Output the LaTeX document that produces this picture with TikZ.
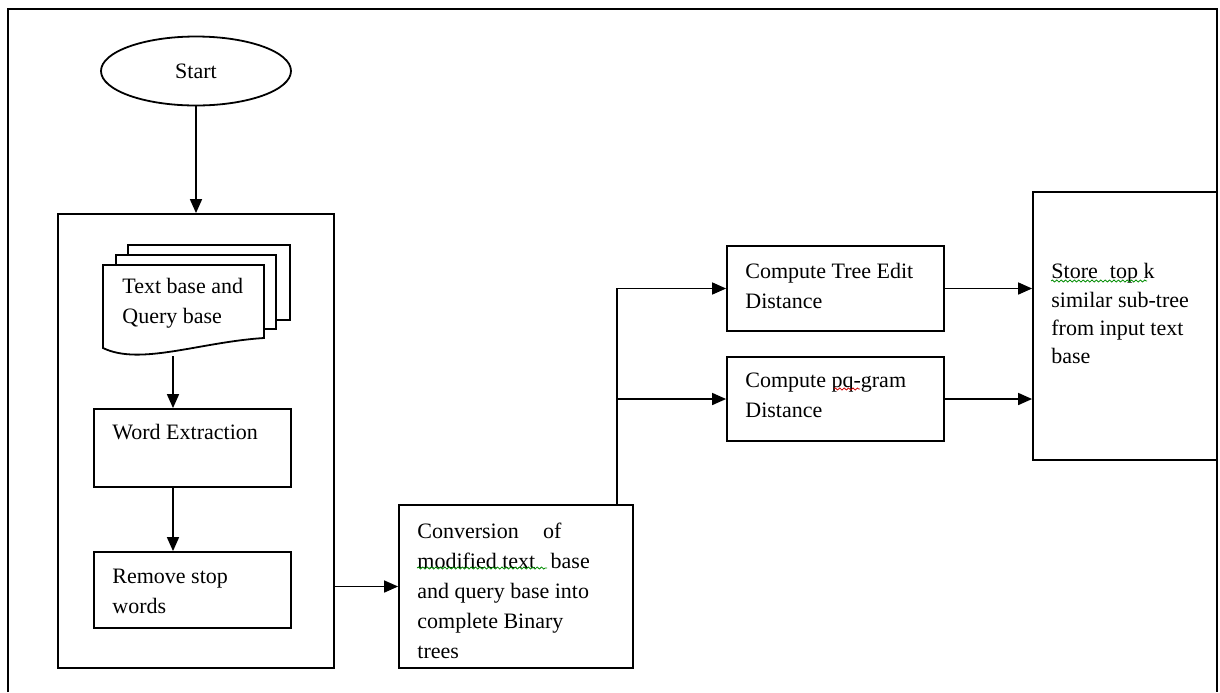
\documentclass[tikz,border=0pt]{standalone}
\usepackage{fontspec}
\setmainfont{Liberation Serif}
\usetikzlibrary{arrows.meta,calc,shapes.geometric,decorations.pathmorphing}
\begin{document}
\begin{tikzpicture}[x=0.5pt,y=-0.5pt,
  box/.style={draw, line width=0.9pt, fill=white, inner sep=0pt},
  txt/.style={anchor=north west, inner sep=0pt, align=left,
              font=\fontsize{11}{15}\selectfont},
  flow/.style={line width=0.8pt, -{Triangle[length=7pt,width=6pt]}},
  page/.style={draw, line width=0.9pt, fill=white},
  spell/.style={decorate, decoration={snake, amplitude=0.5pt, segment length=2.2pt},
                line width=0.4pt}]
\useasboundingbox (0,0) rectangle (1220,692);
\fill[white] (0,0) rectangle (1220,692);

% outer frame
\draw[line width=1pt] (8,692) -- (8,9) -- (1217,9) -- (1217,692);

% start terminal
\node[ellipse, draw, line width=0.9pt, minimum width=95pt, minimum height=34.5pt,
      inner sep=0pt, font=\fontsize{11}{15}\selectfont] (start) at (196,71) {Start};

% preprocessing group
\node[box, minimum width=138pt, minimum height=227pt] (group) at (196,441) {};

% stacked documents
\draw[page] (128,245) rectangle (290,320);
\draw[page] (116,255) rectangle (276,329);
\draw[page] (103,265) -- (264,265) -- (264,338)
  .. controls (200,342) and (140,366) .. (103,348) -- cycle;
\node[txt] (doc) at (122,278) {Text base and\\Query base};
\coordinate (docbot) at (173,356);

\node[box, minimum width=98.5pt, minimum height=39pt] (word) at (192.5,448) {};
\node[txt] (wordtext) at (112,424) {Word Extraction};

\node[box, minimum width=98.5pt, minimum height=38pt] (rem) at (192.5,590) {};
\node[txt] (remtext) at (112,569) {Remove stop\\words};

% conversion step
\node[box, minimum width=117pt, minimum height=81.5pt] (conv) at (516,586.5) {};
\node[txt] (convtext) at (417,523)
  {Conversion\hspace{1.1em}of\\modified text\hspace{0.7em}base\\and query base into\\complete Binary\\trees};
\coordinate (fork) at ($(conv.north east)+(-17,0)$);

% distance computations
\node[box, minimum width=108.5pt, minimum height=42.5pt] (tree) at (835.5,288.5) {};
\node[txt] (treetext) at (745,263) {Compute Tree Edit\\Distance};

\node[box, minimum width=108.5pt, minimum height=42pt] (pq) at (835.5,399) {};
\node[txt] (pqtext) at (745,373) {Compute pq-gram\\Distance};

% result store
\node[box, minimum width=92pt, minimum height=134pt] (store) at (1125,326) {};
\node[txt, font=\fontsize{11}{14.2}\selectfont] (storetext) at (1051,263)
  {Store\hspace{0.55em}top k\\similar sub-tree\\from input text\\base};

% spell-check underlines
\draw[spell, green!55!black] (417,568) -- (547,568);
\draw[spell, red!80!black] (834,389) -- (860,389);
\draw[spell, green!55!black] (1051,281) -- (1147,281);

% connectors
\draw[flow] (start.south) -- (start.south |- group.north);
\draw[flow] (docbot) -- (docbot |- word.north);
\draw[flow] (docbot |- word.south) -- (docbot |- rem.north);
\draw[flow] (group.east |- conv.west) -- (conv.west);
\draw[flow] (fork) |- (tree.west);
\draw[flow] (fork |- pq.west) -- (pq.west);
\draw[flow] (tree.east) -- (store.west |- tree.east);
\draw[flow] (pq.east) -- (store.west |- pq.east);
\end{tikzpicture}
\end{document}
